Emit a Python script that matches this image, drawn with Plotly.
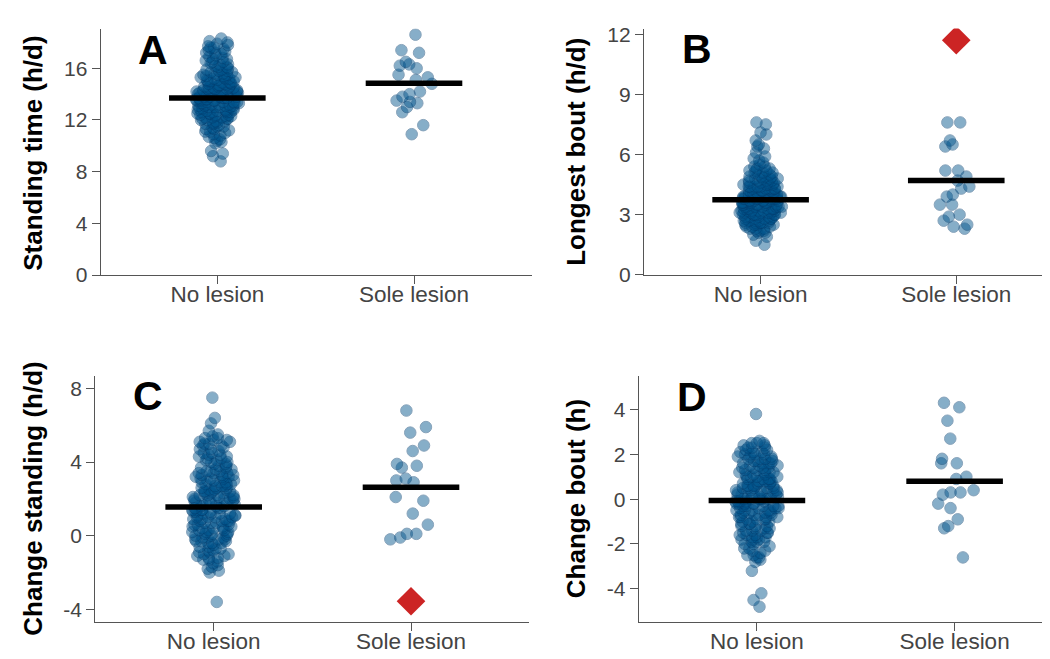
import plotly.graph_objects as go

categories = ["No lesion", "Sole lesion"]

# Panel A: Standing time (h/d)
a_no = [8.8, 9.2, 9.4, 9.6, 10.2, 10.3, 10.4, 10.5, 10.6, 10.7, 10.8, 10.9,
        11.0, 11.1, 11.1, 11.2, 11.3, 11.3, 11.4, 11.5, 11.5, 11.6, 11.7, 11.7, 11.8, 11.8, 11.9, 11.9,
        12.0, 12.0, 12.1, 12.1, 12.2, 12.2, 12.2, 12.3, 12.3, 12.3, 12.4, 12.4, 12.4, 12.5, 12.5, 12.5,
        12.6, 12.6, 12.6, 12.7, 12.7, 12.7, 12.8, 12.8, 12.8, 12.9, 12.9, 12.9, 12.1, 12.6,
        13.0, 13.0, 13.0, 13.0, 13.1, 13.1, 13.1, 13.1, 13.2, 13.2, 13.2, 13.2, 13.3, 13.3, 13.3, 13.3,
        13.4, 13.4, 13.4, 13.4, 13.5, 13.5, 13.5, 13.5, 13.6, 13.6, 13.6, 13.6, 13.7, 13.7, 13.7, 13.7,
        13.8, 13.8, 13.8, 13.8, 13.9, 13.9, 13.9, 13.9,
        14.0, 14.0, 14.0, 14.0, 14.1, 14.1, 14.1, 14.1, 14.2, 14.2, 14.2, 14.2, 14.3, 14.3, 14.3, 14.3,
        14.4, 14.4, 14.4, 14.4, 14.5, 14.5, 14.5, 14.5, 14.6, 14.6, 14.6, 14.7, 14.7, 14.7, 14.8, 14.8,
        14.8, 14.9, 14.9, 14.9,
        15.0, 15.0, 15.0, 15.1, 15.1, 15.2, 15.2, 15.2, 15.3, 15.3, 15.4, 15.4, 15.5, 15.5, 15.5, 15.6,
        15.6, 15.7, 15.7, 15.8, 15.8, 15.9, 15.9, 15.3,
        16.0, 16.1, 16.2, 16.3, 16.4, 16.5, 16.6, 16.7, 16.8, 16.9, 16.1, 16.3, 16.5, 16.7,
        17.0, 17.1, 17.2, 17.3, 17.4, 17.5, 17.6, 17.7, 17.8, 17.9, 17.2, 17.6,
        18.0, 18.1, 18.3]
a_sole = [18.6, 17.4, 17.2, 16.5, 16.2, 16.0, 16.3, 15.5, 15.3, 15.1, 14.8, 14.2, 14.0, 13.8,
          13.5, 13.4, 13.3, 13.0, 12.6, 11.6, 10.9]
a_means = [13.7, 14.85]

# Panel B: Longest bout (h/d)
b_no = [1.5, 1.7, 1.9,
        2.0, 2.1, 2.1, 2.2, 2.2, 2.3, 2.3, 2.3, 2.4, 2.4, 2.4, 2.2,
        2.5, 2.5, 2.5, 2.5, 2.6, 2.6, 2.6, 2.6, 2.6, 2.7, 2.7, 2.7, 2.7, 2.7, 2.8, 2.8, 2.8, 2.8, 2.8,
        2.9, 2.9, 2.9, 2.9, 2.9, 2.6,
        3.0, 3.0, 3.0, 3.0, 3.0, 3.0, 3.0, 3.1, 3.1, 3.1, 3.1, 3.1, 3.1, 3.1, 3.2, 3.2, 3.2, 3.2, 3.2,
        3.2, 3.2, 3.3, 3.3, 3.3, 3.3, 3.3, 3.3, 3.3, 3.4, 3.4, 3.4, 3.4, 3.4, 3.4, 3.4,
        3.5, 3.5, 3.5, 3.5, 3.5, 3.5, 3.5, 3.6, 3.6, 3.6, 3.6, 3.6, 3.6, 3.6, 3.7, 3.7, 3.7, 3.7, 3.7,
        3.7, 3.7, 3.8, 3.8, 3.8, 3.8, 3.8, 3.8, 3.8, 3.9, 3.9, 3.9, 3.9, 3.9, 3.9, 3.9,
        4.0, 4.0, 4.0, 4.0, 4.0, 4.0, 4.1, 4.1, 4.1, 4.1, 4.1, 4.1, 4.2, 4.2, 4.2, 4.2, 4.2, 4.2,
        4.3, 4.3, 4.3, 4.3, 4.3, 4.3, 4.4, 4.4, 4.4, 4.4, 4.4, 4.4,
        4.5, 4.5, 4.5, 4.5, 4.6, 4.6, 4.6, 4.6, 4.7, 4.7, 4.7, 4.7, 4.8, 4.8, 4.8, 4.8, 4.9, 4.9, 4.9, 4.9,
        5.0, 5.0, 5.1, 5.1, 5.2, 5.2, 5.3, 5.3, 5.4, 5.4, 5.2, 5.1,
        5.5, 5.6, 5.7, 5.8, 5.9,
        6.1, 6.3, 6.4, 6.5, 6.7,
        7.0, 7.1, 7.5, 7.6]
b_sole = [7.6, 7.6, 6.7, 6.4, 6.5, 5.2, 5.2, 4.9, 4.7, 4.4, 4.3, 4.0, 3.9, 3.5, 3.5, 3.0, 2.9,
          2.7, 2.5, 2.3, 2.4]
b_means = [3.74, 4.70]
b_outlier = 11.7

# Panel C: Change standing (h/d)
c_no = [-3.6,
        -2.0, -1.9, -1.8, -1.7, -1.6, -1.5,
        -1.4, -1.3, -1.3, -1.2, -1.2, -1.1, -1.1, -1.0, -1.0, -0.9, -0.9, -0.8, -0.8, -0.7, -0.7,
        -0.6, -0.6, -0.5,
        -0.4, -0.4, -0.4, -0.3, -0.3, -0.3, -0.2, -0.2, -0.2, -0.1, -0.1, -0.1, 0.0, 0.0, 0.0,
        0.1, 0.1, 0.1, 0.2, 0.2, 0.2, 0.3, 0.3, 0.3, 0.4, 0.4, 0.4, 0.5, 0.5, 0.5,
        0.6, 0.6, 0.6, 0.7, 0.7, 0.7, 0.8, 0.8, 0.8, 0.9, 0.9, 0.9, 1.0, 1.0, 1.0, 1.1, 1.1, 1.1,
        1.2, 1.2, 1.2, 1.3, 1.3, 1.3, 1.4, 1.4, 1.4, 1.5, 1.5, 1.5, 0.8, 1.0, 1.2, 1.4,
        1.6, 1.6, 1.6, 1.7, 1.7, 1.7, 1.8, 1.8, 1.8, 1.9, 1.9, 1.9, 2.0, 2.0, 2.0, 2.1, 2.1, 2.1,
        2.2, 2.2, 2.2, 2.3, 2.3, 2.3, 2.4, 2.4, 2.4, 2.5, 2.5, 2.5, 1.8, 2.0, 2.2, 2.4,
        2.6, 2.6, 2.6, 2.7, 2.7, 2.7, 2.8, 2.8, 2.8, 2.9, 2.9, 2.9, 3.0, 3.0, 3.0, 3.1, 3.1, 3.1,
        3.2, 3.2, 3.2, 3.3, 3.3, 3.3, 3.4, 3.4, 3.4, 3.5, 3.5, 3.5,
        3.6, 3.6, 3.7, 3.7, 3.8, 3.8, 3.9, 3.9, 4.0, 4.0, 4.1, 4.1, 4.2, 4.2, 4.3, 4.3, 4.4, 4.4,
        4.5, 4.5,
        4.6, 4.7, 4.8, 4.9, 5.0, 5.1, 5.2, 5.3, 4.7, 4.9, 5.0, 5.1, 5.2, 5.3,
        5.4, 5.5, 5.7, 6.1, 6.4, 7.5]
c_sole = [6.8, 5.9, 5.6, 4.9, 4.6, 3.9, 3.8, 3.7, 3.1, 3.0, 2.9, 2.1, 1.9, 1.2, 0.6, 0.1, 0.1,
          -0.1, -0.2]
c_means = [1.56, 2.63]
c_outlier = -3.56

# Panel D: Change bout (h)
d_no = [-4.8, -4.5, -4.2, -3.2,
        -2.8, -2.7, -2.6, -2.6, -2.5, -2.5, -2.4, -2.3, -2.3, -2.2, -2.2, -2.1, -2.0, -2.0,
        -1.9, -1.9, -1.9, -1.8, -1.8, -1.8, -1.7, -1.7, -1.7, -1.6, -1.6, -1.6, -1.5, -1.5, -1.5,
        -1.4, -1.4, -1.4, -1.3, -1.3, -1.3, -1.2, -1.2, -1.2, -1.1, -1.1, -1.1, -1.0, -1.0, -1.0,
        -0.9, -0.9, -0.9, -0.9, -0.8, -0.8, -0.8, -0.8, -0.7, -0.7, -0.7, -0.7, -0.6, -0.6, -0.6,
        -0.6, -0.5, -0.5, -0.5, -0.5, -0.4, -0.4, -0.4, -0.4, -0.3, -0.3, -0.3, -0.3, -0.2, -0.2,
        -0.2, -0.2, -0.1, -0.1, -0.1, -0.1, 0.0, 0.0, 0.0, 0.0, -0.5, -0.3, -0.2, -0.1, 0.0,
        0.1, 0.1, 0.1, 0.1, 0.2, 0.2, 0.2, 0.2, 0.3, 0.3, 0.3, 0.3, 0.4, 0.4, 0.4, 0.4, 0.5, 0.5,
        0.5, 0.5, 0.6, 0.6, 0.6, 0.6, 0.7, 0.7, 0.7, 0.7, 0.8, 0.8, 0.8, 0.8, 0.9, 0.9, 0.9, 0.9,
        1.0, 1.0, 1.0, 1.0, 0.2, 0.3, 0.5, 0.6, 0.8,
        1.1, 1.1, 1.1, 1.2, 1.2, 1.2, 1.3, 1.3, 1.3, 1.4, 1.4, 1.4, 1.5, 1.5, 1.5, 1.6, 1.6, 1.6,
        1.7, 1.7, 1.7, 1.8, 1.8, 1.8, 1.9, 1.9, 1.9, 2.0, 2.0, 2.0, 1.2, 1.4, 1.6, 1.8, 2.0,
        2.1, 2.1, 2.2, 2.2, 2.3, 2.3, 2.4, 2.4, 2.5, 2.5, 2.6, 2.1, 2.3, 2.5,
        3.8]
d_sole = [4.3, 4.1, 3.5, 2.7, 1.8, 1.6, 1.6, 1.0, 0.9, 0.4, 0.3, 0.2, 0.3, -0.2, -0.4, -0.9,
          -1.2, -1.3, -2.6]
d_means = [-0.06, 0.80]

panel_letters = ["A", "B", "C", "D"]
y_titles = ["Standing time (h/d)", "Longest bout (h/d)", "Change standing (h/d)", "Change bout (h)"]
y_tickvals = [[0, 4, 8, 12, 16], [0, 3, 6, 9, 12], [-4, 0, 4, 8], [-4, -2, 0, 2, 4]]
y_ticktext = [["0", "4", "8", "12", "16"], ["0", "3", "6", "9", "12"],
              ["-4", "0", "4", "8"], ["-4", "-2", "0", "2", "4"]]

W, H = 1050, 659
PT_COLOR = "rgb(0,84,140)"
RED = "rgb(204,36,36)"
FONT = "Liberation Sans, Arial, sans-serif"

fig = go.Figure()

panels = [
    (a_no, a_sole, a_means, None),
    (b_no, b_sole, b_means, b_outlier),
    (c_no, c_sole, c_means, c_outlier),
    (d_no, d_sole, d_means, None),
]

for i, (no_vals, sole_vals, means, outlier) in enumerate(panels):
    sfx = "" if i == 0 else str(i + 1)
    xa, ya = "x" + sfx, "y" + sfx
    fig.add_trace(go.Box(
        x=[categories[0]] * len(no_vals) + [categories[1]] * len(sole_vals),
        y=no_vals + sole_vals,
        boxpoints="all", jitter=0.44, pointpos=0, width=0.5,
        fillcolor="rgba(0,0,0,0)", line=dict(width=0, color="rgba(0,0,0,0)"),
        marker=dict(size=11.5, color=PT_COLOR, opacity=0.47,
                    line=dict(width=1, color="rgb(0,60,110)")),
        xaxis=xa, yaxis=ya, showlegend=False, hoverinfo="y",
    ))
    fig.add_trace(go.Scatter(
        x=categories, y=means, mode="markers",
        marker=dict(symbol="line-ew", size=69, line=dict(width=5.5, color="black")),
        xaxis=xa, yaxis=ya, showlegend=False, hoverinfo="y",
    ))
    if outlier is not None:
        fig.add_trace(go.Scatter(
            x=[categories[1]], y=[outlier], mode="markers",
            marker=dict(symbol="diamond", size=22, color=RED, line=dict(width=0)),
            xaxis=xa, yaxis=ya, showlegend=False, hoverinfo="y",
        ))

# geometry (px) of each panel's plot area
x_domains = [(92.7, 524.0), (636.0, 1050.0), (87.3, 521.4), (630.7, 1050.0)]
y_domains = [(15.0, 268.0), (15.0, 267.7), (371.7, 624.3), (371.7, 624.3)]
x_ranges = [[-0.593, 1.6], [-0.596, 1.52], [-0.60, 1.6], [-0.598, 1.523]]
y_ranges = [[0, 19.07], [0, 12.28], [-4.70, 8.67], [-5.49, 5.49]]
title_pos = [(25, 143.5), (568, 141.5), (25, 497.5), (568, 498)]

axis_color = "#555555"
layout = dict(
    width=W, height=H, margin=dict(l=0, r=0, t=0, b=0),
    paper_bgcolor="white", plot_bgcolor="white",
    font=dict(family=FONT, color="#444444"),
    showlegend=False,
)
for i in range(4):
    sfx = "" if i == 0 else str(i + 1)
    x0, x1 = x_domains[i]
    y0, y1 = y_domains[i]
    layout["xaxis" + sfx] = dict(
        domain=[x0 / W, x1 / W], anchor="y" + sfx, type="category",
        categoryorder="array", categoryarray=categories,
        range=x_ranges[i], showline=True, linecolor=axis_color, linewidth=1.2,
        ticks="outside", ticklen=8, tickcolor=axis_color, tickwidth=1.2,
        ticklabelstandoff=-9,
        showgrid=False, zeroline=False,
        tickfont=dict(size=22.5, color="#444444", family=FONT),
    )
    layout["yaxis" + sfx] = dict(
        domain=[1 - y1 / H, 1 - y0 / H], anchor="x" + sfx,
        range=y_ranges[i], showline=True, linecolor=axis_color, linewidth=1.2,
        ticks="outside", ticklen=8, tickcolor=axis_color, tickwidth=1.2,
        tickvals=y_tickvals[i], ticktext=y_ticktext[i],
        showgrid=False, zeroline=False,
        tickfont=dict(size=21, color="#444444", family=FONT),
    )
fig.update_layout(**layout)

for title, (tx, ty) in zip(y_titles, title_pos):
    fig.add_annotation(
        x=tx / W, y=1 - ty / H, xref="paper", yref="paper",
        text="<b>" + title + "</b>", showarrow=False, textangle=-90,
        xanchor="center", yanchor="middle",
        font=dict(size=26, color="black", family=FONT),
    )

letter_pos = [(145, 37), (689, 36), (140, 392), (684, 393)]
for letter, (lx, ly) in zip(panel_letters, letter_pos):
    fig.add_annotation(
        x=lx / W, y=1 - ly / H, xref="paper", yref="paper",
        text="<b>" + letter + "</b>", showarrow=False,
        xanchor="center", yanchor="middle",
        font=dict(size=41, color="black", family=FONT),
    )

fig.write_html("out.html")
